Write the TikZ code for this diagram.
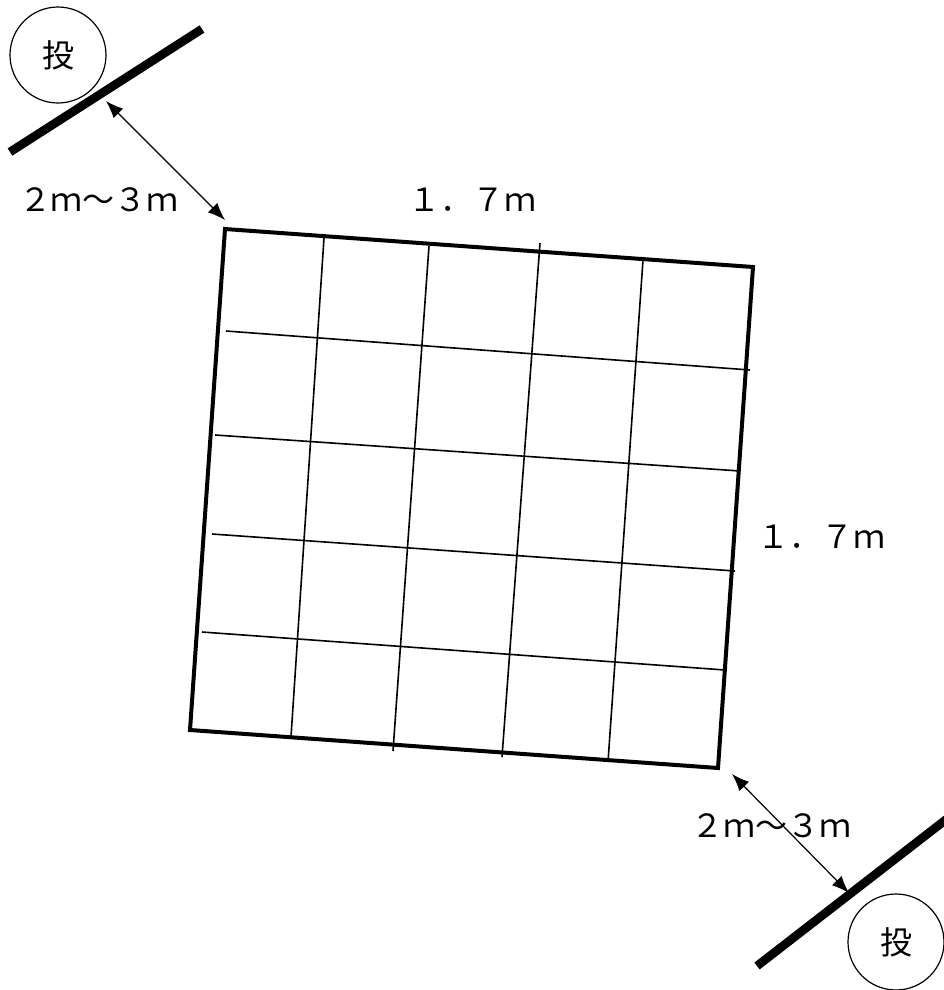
\documentclass[tikz,border=0pt]{standalone}
\usepackage{fontspec}
\newfontfamily\jp{Noto Sans CJK JP}
\usetikzlibrary{arrows.meta}
\begin{document}
\begin{tikzpicture}[x=0.75pt,y=-0.75pt,
  frame/.style={line width=3pt,line join=miter},
  gridline/.style={line width=1.2pt},
  wall/.style={line width=6.5pt},
  dim/.style={line width=0.9pt,{Latex[length=13pt,width=10pt]}-{Latex[length=13pt,width=10pt]}},
  lbl/.style={font=\jp\fontsize{24}{26}\selectfont,inner sep=0pt},
  pitcher/.style={circle,draw,line width=0.9pt,minimum size=72pt,inner sep=0pt,font=\jp\fontsize{24}{26}\selectfont}]
\useasboundingbox (0,0) rectangle (944,990);
% corners
\coordinate (tl) at (225,229);
\coordinate (tr) at (753,267);
\coordinate (br) at (718,768);
\coordinate (bl) at (190,730);
% grid lines
\coordinate (h1a) at (226,331); \coordinate (h1b) at (750,370);
\coordinate (h2a) at (215,435); \coordinate (h2b) at (740,471);
\coordinate (h3a) at (212,534); \coordinate (h3b) at (735,571);
\coordinate (h4a) at (202,632); \coordinate (h4b) at (725,670);
\coordinate (v1a) at (324,238); \coordinate (v1b) at (291,737);
\coordinate (v2a) at (429,246); \coordinate (v2b) at (393,751);
\coordinate (v3a) at (540,243); \coordinate (v3b) at (502,757);
\coordinate (v4a) at (643,260); \coordinate (v4b) at (608,762);
\foreach \n in {1,2,3,4} {
  \draw[gridline] (h\n a) -- (h\n b);
  \draw[gridline] (v\n a) -- (v\n b);
}
\draw[frame] (tl) -- (tr) -- (br) -- (bl) -- cycle;
% walls
\coordinate (w1a) at (10,152); \coordinate (w1b) at (202,29);
\coordinate (w2a) at (757,966); \coordinate (w2b) at (948,818);
\draw[wall] (w1a) -- (w1b);
\draw[wall] (w2a) -- (w2b);
% pitcher circles
\node[pitcher] (p1) at (58,55) {投};
\node[pitcher] (p2) at (896,942) {投};
% dimension arrows
\coordinate (d1a) at (106,101); \coordinate (d1b) at (225,220);
\coordinate (d2a) at (732,774); \coordinate (d2b) at (849,893);
\draw[dim] (d1a) -- (d1b);
\draw[dim] (d2a) -- (d2b);
% labels
\node[lbl] (l1) at (99,200) {２ｍ～３ｍ};
\node[lbl] (l2) at (472,200) {１．７ｍ};
\node[lbl] (l3) at (821,537) {１．７ｍ};
\node[lbl] (l4) at (771,826) {２ｍ～３ｍ};
\end{tikzpicture}
\end{document}
